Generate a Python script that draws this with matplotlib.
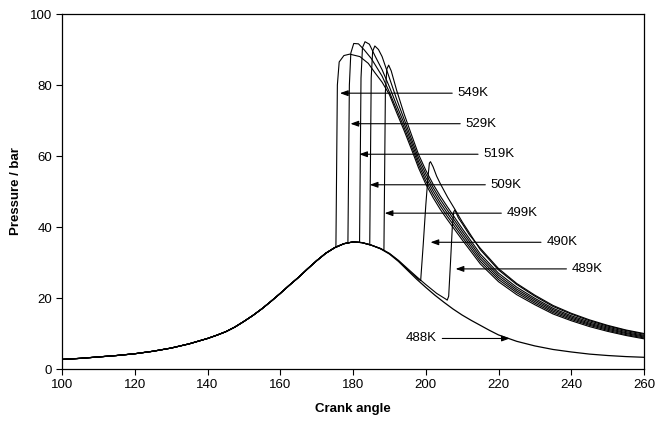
import numpy as np
import matplotlib
matplotlib.use('Agg')
import matplotlib.pyplot as plt

plt.rcParams['font.family'] = ['Liberation Sans', 'DejaVu Sans']

# motored (488K) curve
motored_angle = [100, 105, 110, 115, 120, 125, 130, 135, 140, 142.5, 145, 147.5, 150,
                 152.5, 155, 157.5, 160, 162.5, 165, 167.5, 170, 172.5, 175, 177.5,
                 180, 182.5, 185, 187.5, 190, 192.5, 195, 197.5, 200, 202.5, 205,
                 207.5, 210, 212.5, 215, 217.5, 220, 225, 230, 235, 240, 245, 250,
                 255, 260]
motored_p = [2.7, 3.0, 3.4, 3.8, 4.3, 5.0, 5.9, 7.1, 8.6, 9.5, 10.5, 11.8, 13.4,
             15.1, 17.0, 19.1, 21.3, 23.6, 25.8, 28.2, 30.5, 32.6, 34.2, 35.3,
             35.8, 35.6, 34.9, 33.9, 32.4, 30.3, 27.8, 25.3, 23.0, 20.8, 18.8,
             16.9, 15.2, 13.7, 12.3, 10.9, 9.6, 7.8, 6.5, 5.5, 4.8, 4.2, 3.8,
             3.5, 3.3]

# fired curves, from ignition onwards
a549 = [175.3, 175.7, 176.2, 177.5, 179.1, 181.9, 184.2, 186, 188, 190, 192, 194, 196, 198,
        200, 202, 204, 206, 210, 215, 220, 225, 230, 235, 240, 245, 250, 255, 260]
p549 = [34.3, 80.0, 86.5, 88.3, 88.7, 88.0, 86.1, 83.5, 80.8, 77.3, 72.2, 67.3, 62.1, 56.7,
        52.1, 48.3, 44.95, 42.0, 36.4, 29.6, 24.6, 20.95, 18.1, 15.5, 13.6, 11.95, 10.6, 9.45, 8.5]

a529 = [178.6, 179.0, 179.4, 180.2, 181.5, 183, 185, 188, 190, 192, 194, 196, 198,
        200, 202, 204, 206, 210, 215, 220, 225, 230, 235, 240, 245, 250, 255, 260]
p529 = [35.5, 80.0, 89.0, 91.7, 91.6, 90.0, 87.5, 82.5, 78.0, 73.1, 68.2, 63.0, 57.6,
        53.0, 49.25, 45.9, 42.9, 37.2, 30.3, 25.2, 21.5, 18.55, 15.9, 13.95, 12.3, 10.9, 9.7, 8.75]

a519 = [181.8, 182.2, 182.6, 183.3, 184.5, 186, 188, 190, 192, 194, 196, 198,
        200, 202, 204, 206, 210, 215, 220, 225, 230, 235, 240, 245, 250, 255, 260]
p519 = [35.7, 82.0, 90.5, 92.2, 91.5, 88.3, 84.3, 79.5, 74.3, 69.3, 64.0, 58.5,
        54.0, 50.2, 46.8, 43.8, 38.0, 31.0, 25.8, 22.0, 19.0, 16.3, 14.3, 12.6, 11.2, 10.0, 9.0]

a509 = [184.6, 185.0, 185.4, 186.0, 187.0, 188, 190, 192, 194, 196, 198,
        200, 202, 204, 206, 210, 215, 220, 225, 230, 235, 240, 245, 250, 255, 260]
p509 = [35.0, 82.0, 89.5, 91.0, 90.0, 88.0, 82.0, 76.0, 70.5, 65.0, 59.5,
        55.0, 51.15, 47.75, 44.7, 38.8, 31.7, 26.4, 22.5, 19.45, 16.7, 14.65, 12.9, 11.5, 10.25, 9.25]

a499 = [188.5, 188.9, 189.3, 189.8, 190.5, 192, 194, 196, 198,
        200, 202, 204, 206, 210, 215, 220, 225, 230, 235, 240, 245, 250, 255, 260]
p499 = [33.5, 78.0, 84.5, 85.6, 84.0, 78.5, 72.0, 66.2, 60.5,
        56.0, 52.1, 48.7, 45.6, 39.6, 32.4, 27.0, 23.05, 19.9, 17.1, 15.0, 13.25, 11.8, 10.55, 9.5]

a490 = [185, 187.5, 190, 192.5, 195, 198.0, 198.6, 199.3, 200.0, 200.6, 201.0, 201.3, 202,
        203, 204, 206, 208, 210, 215, 220, 225, 230, 235, 240, 245, 250, 255, 260]
p490 = [34.9, 33.95, 32.5, 30.5, 28.0, 25.3, 24.9, 35.0, 46.0, 54.0, 58.0, 58.4, 57.0,
        54.3, 52.2, 48.4, 45.0, 41.5, 33.6, 27.9, 23.8, 20.5, 17.6, 15.45, 13.6, 12.1, 10.85, 9.8]

a489 = [185, 187.5, 190, 192.5, 195, 197.5, 200, 203, 205.5, 205.9, 206.3, 206.8, 207.3,
        207.7, 208.0, 209, 210, 212, 215, 220, 225, 230, 235, 240, 245, 250, 255, 260]
p489 = [34.9, 34.0, 32.6, 30.6, 28.3, 26.0, 23.8, 21.3, 19.7, 19.4, 20.5, 30.0, 40.0,
        44.3, 44.8, 42.5, 41.0, 37.8, 34.0, 28.3, 24.1, 20.8, 17.9, 15.7, 13.85, 12.3, 11.0, 10.0]

fired = [(a549, p549), (a529, p529), (a519, p519), (a509, p509),
         (a499, p499), (a490, p490), (a489, p489)]

# labels: text, arrow tip (angle, p), text position (angle, p)
labels = ['549K', '529K', '519K', '509K', '499K', '490K', '489K', '488K']
tip_angle = [176.4, 179.3, 181.7, 184.6, 188.7, 201.3, 208.2, 223.1]
tip_p = [77.7, 69.1, 60.5, 51.9, 43.9, 35.7, 28.2, 8.6]
text_angle = [208.8, 211.0, 215.9, 217.9, 222.3, 233.2, 240.2, 194.5]

fig = plt.figure(figsize=(6.61, 4.21), dpi=100)
ax = fig.add_axes([0.0938, 0.1235, 0.8805, 0.8432])

ma = np.array(motored_angle)
mp = np.array(motored_p)
ax.plot(ma, mp, color='black', lw=0.9)
for ang, pr in fired:
    keep = ma < ang[0]
    x = np.concatenate([ma[keep], ang])
    y = np.concatenate([mp[keep], pr])
    ax.plot(x, y, color='black', lw=0.8)

for lab, ta, tp, xa in zip(labels, tip_angle, tip_p, text_angle):
    ax.annotate(lab, xy=(ta, tp), xytext=(xa, tp), ha='left', va='center',
                fontsize=9.5,
                arrowprops=dict(arrowstyle='-|>,head_length=0.5,head_width=0.18',
                                color='black', lw=0.8, shrinkA=2, shrinkB=0))

ax.set_xlim(100, 260)
ax.set_ylim(0, 100)
ax.set_xticks(range(100, 261, 20))
ax.set_yticks(range(0, 101, 20))
ax.tick_params(direction='out', length=4, width=0.8, labelsize=9.5, pad=3)
for s in ax.spines.values():
    s.set_linewidth(0.9)
ax.set_xlabel('Crank angle', fontsize=9.5, fontweight='bold', labelpad=9)
ax.set_ylabel('Pressure / bar', fontsize=9.5, fontweight='bold', labelpad=6)

fig.savefig('out.png', dpi=100)
